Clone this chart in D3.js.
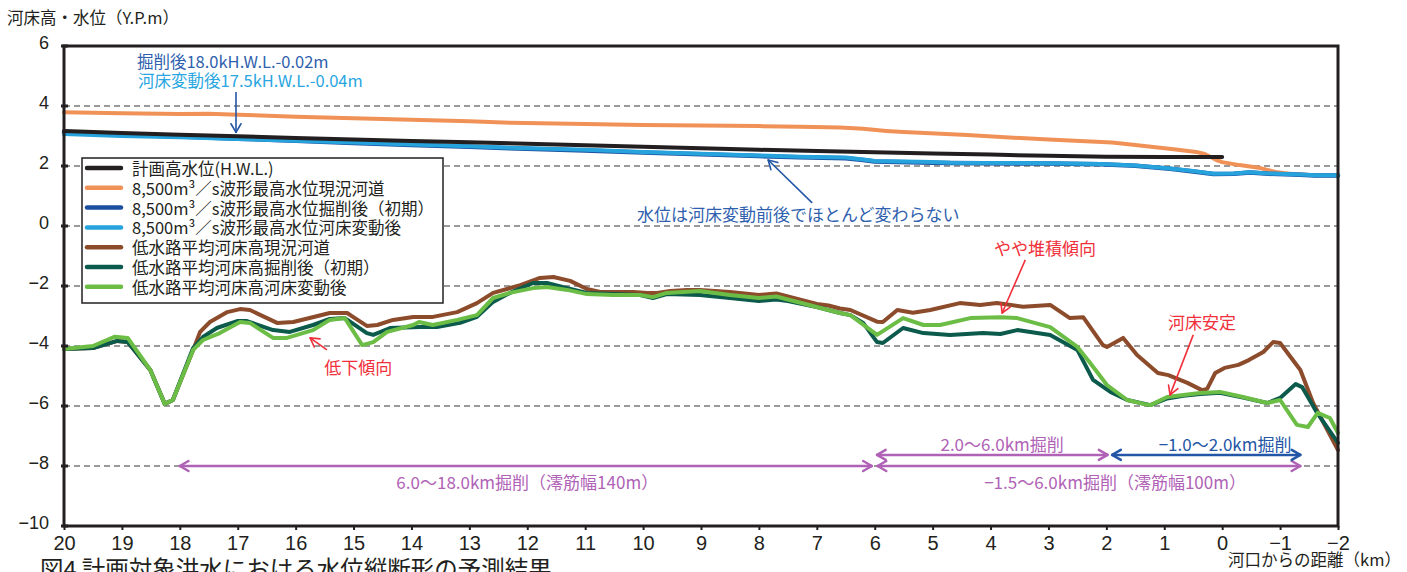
<!DOCTYPE html>
<html>
<head>
<meta charset="utf-8">
<script src="https://cdn.jsdelivr.net/npm/d3@7"></script>
<style>
  html, body { margin: 0; padding: 0; background: #fff; }
  svg { display: block; font-family: "Noto Sans CJK JP", "Noto Sans", sans-serif; }
</style>
</head>
<body>
<svg id="chart" width="1407" height="572"></svg>
<script>
// ---- axis ticks ----
const xTicks = [20, 19, 18, 17, 16, 15, 14, 13, 12, 11, 10, 9, 8, 7, 6, 5, 4, 3, 2, 1, 0, -1, -2];
const yTicks = [-10, -8, -6, -4, -2, 0, 2, 4, 6];

// ---- water levels [km from river mouth, Y.P. m] ----
const hwl = [[20,3.17],[19,3.1],[18,3.04],[17,2.99],[16,2.93],[15,2.88],[14,2.83],[13,2.79],[12,2.74],[11,2.69],[10,2.64],[9,2.59],[8,2.54],[7,2.5],[6,2.46],[5,2.42],[4,2.38],[3,2.34],[2,2.31],[1,2.3],[0,2.3]];

const wlCurrent = [[20,3.79],[19,3.76],[18,3.73],[17.5,3.74],[17,3.71],[16,3.64],[15,3.59],[14,3.54],[13,3.49],[12.3,3.44],[11,3.4],[10,3.37],[9,3.35],[8,3.33],[7.3,3.31],[6.6,3.28],[6.2,3.24],[5.8,3.17],[5.5,3.13],[4.4,3.03],[3,2.88],[1.9,2.78],[1.5,2.7],[0.8,2.55],[0.45,2.47],[0.3,2.4],[0.1,2.2],[0,2.13],[-0.3,2.03],[-0.66,1.93],[-0.92,1.8],[-1.2,1.73],[-1.5,1.7],[-2,1.69]];

const wlExcavated = [[20,3.12],[19,3.04],[18,2.98],[17,2.91],[16,2.84],[15,2.77],[14,2.7],[13,2.64],[12.3,2.59],[11,2.52],[10,2.45],[9,2.39],[8,2.33],[7.3,2.29],[6.5,2.26],[6.2,2.2],[6.0,2.15],[5,2.11],[4.7,2.1],[3,2.08],[2.1,2.06],[1.5,2.01],[0.9,1.91],[0.5,1.82],[0.15,1.73],[-0.2,1.74],[-0.48,1.78],[-0.8,1.74],[-1.35,1.71],[-1.6,1.68],[-2,1.68]];

const wlChanged = [[20,3.07],[19,3.0],[18,2.96],[17,2.9],[16,2.84],[15,2.78],[14,2.72],[13,2.66],[12.3,2.61],[11,2.54],[10,2.47],[9,2.41],[8,2.35],[7.3,2.31],[6.5,2.28],[6.2,2.22],[6.0,2.17],[5,2.13],[4.7,2.11],[3,2.09],[2.1,2.07],[1.5,2.02],[0.9,1.92],[0.5,1.83],[0.15,1.74],[-0.2,1.75],[-0.48,1.79],[-0.8,1.75],[-1.35,1.72],[-1.6,1.69],[-2,1.69]];

// ---- low-water channel mean bed elevation [km, Y.P. m] ----
const bedCurrent = [[20,-4.1],[19.5,-4.07],[19.08,-3.83],[18.9,-3.87],[18.51,-4.8],[18.26,-5.93],[18.12,-5.8],[17.77,-4.13],[17.65,-3.53],[17.48,-3.2],[17.18,-2.87],[16.96,-2.77],[16.79,-2.8],[16.32,-3.23],[16.04,-3.2],[15.41,-2.9],[15.11,-2.9],[15.01,-3.03],[14.77,-3.33],[14.59,-3.3],[14.32,-3.13],[13.97,-3.03],[13.63,-3.03],[13.21,-2.87],[12.87,-2.57],[12.59,-2.23],[12.35,-2.1],[12.12,-1.97],[11.78,-1.73],[11.55,-1.7],[11.26,-1.83],[10.97,-2.1],[10.74,-2.2],[10.17,-2.2],[9.93,-2.23],[9.76,-2.23],[9.53,-2.17],[9.24,-2.13],[9.02,-2.13],[8.5,-2.2],[8.0,-2.3],[7.7,-2.25],[7.5,-2.35],[7.2,-2.5],[7.0,-2.6],[6.8,-2.65],[6.6,-2.75],[6.42,-2.8],[5.96,-3.19],[5.86,-3.2],[5.61,-2.8],[5.34,-2.89],[5.04,-2.8],[4.53,-2.57],[4.18,-2.63],[3.89,-2.57],[3.44,-2.69],[2.97,-2.63],[2.63,-3.07],[2.4,-3.04],[2.06,-3.97],[1.99,-4.03],[1.71,-3.73],[1.47,-4.3],[1.11,-4.9],[0.93,-4.97],[0.6,-5.23],[0.35,-5.47],[0.26,-5.43],[0.12,-4.9],[-0.04,-4.73],[-0.28,-4.63],[-0.46,-4.47],[-0.71,-4.2],[-0.88,-3.87],[-1.0,-3.9],[-1.35,-4.8],[-1.57,-5.9],[-2,-7.47]];

const bedExcavated = [[20,-4.1],[19.5,-4.07],[19.08,-3.83],[18.9,-3.87],[18.51,-4.8],[18.26,-5.93],[18.12,-5.8],[17.77,-4.07],[17.6,-3.7],[17.36,-3.4],[17.01,-3.17],[16.84,-3.17],[16.39,-3.47],[16.1,-3.53],[15.7,-3.3],[15.41,-3.1],[15.15,-3.07],[14.77,-3.57],[14.66,-3.63],[14.37,-3.4],[13.85,-3.37],[13.56,-3.37],[13.16,-3.23],[12.87,-3.03],[12.59,-2.53],[12.3,-2.23],[11.9,-1.9],[11.66,-1.9],[11.31,-2.07],[10.97,-2.23],[10.05,-2.3],[9.83,-2.4],[9.59,-2.27],[9.02,-2.3],[8.5,-2.4],[8.0,-2.5],[7.7,-2.45],[7.5,-2.5],[7.0,-2.7],[6.6,-2.9],[6.42,-2.97],[6.2,-3.23],[5.96,-3.87],[5.86,-3.9],[5.51,-3.4],[5.16,-3.57],[4.7,-3.63],[4.13,-3.57],[3.83,-3.6],[3.54,-3.47],[2.97,-3.63],[2.5,-4.13],[2.23,-5.13],[1.93,-5.53],[1.64,-5.8],[1.24,-5.97],[0.95,-5.75],[0.67,-5.66],[0.38,-5.6],[0.04,-5.56],[-0.36,-5.72],[-0.78,-5.9],[-1.0,-5.73],[-1.27,-5.27],[-1.38,-5.37],[-1.64,-6.23],[-2,-7.23]];

const bedChanged = [[20,-4.1],[19.5,-4.0],[19.12,-3.69],[18.9,-3.73],[18.51,-4.8],[18.26,-5.93],[18.12,-5.8],[17.77,-4.13],[17.6,-3.8],[17.31,-3.57],[16.96,-3.2],[16.79,-3.23],[16.39,-3.73],[16.15,-3.73],[15.7,-3.47],[15.41,-3.13],[15.15,-3.07],[14.85,-3.97],[14.66,-3.87],[14.42,-3.53],[13.97,-3.3],[13.87,-3.2],[13.63,-3.3],[13.21,-3.13],[12.87,-2.97],[12.59,-2.4],[12.3,-2.23],[11.9,-2.07],[11.66,-2.03],[11.31,-2.13],[10.97,-2.27],[10.52,-2.3],[10.05,-2.3],[9.83,-2.37],[9.59,-2.23],[9.02,-2.17],[8.5,-2.3],[8.0,-2.4],[7.7,-2.35],[7.5,-2.45],[7.2,-2.6],[7.0,-2.7],[6.6,-2.9],[6.42,-2.97],[5.96,-3.63],[5.51,-3.07],[5.16,-3.3],[4.87,-3.3],[4.35,-3.07],[3.83,-3.04],[3.54,-3.07],[2.97,-3.37],[2.5,-4.03],[2.28,-4.57],[1.99,-5.3],[1.64,-5.8],[1.36,-5.93],[1.24,-5.97],[0.95,-5.7],[0.67,-5.63],[0.38,-5.57],[0.04,-5.53],[-0.36,-5.7],[-0.78,-5.9],[-1.0,-5.8],[-1.29,-6.63],[-1.48,-6.7],[-1.65,-6.23],[-1.86,-6.4],[-2,-6.9]];

// ---- legend ----
const legendLabels = [
  "計画高水位(H.W.L.)",
  "8,500m³／s波形最高水位現況河道",
  "8,500m³／s波形最高水位掘削後（初期）",
  "8,500m³／s波形最高水位河床変動後",
  "低水路平均河床高現況河道",
  "低水路平均河床高掘削後（初期）",
  "低水路平均河床高河床変動後"
];
const seriesColors = ["#231f20", "#f09257", "#1a4f9f", "#26a3dc", "#8c4b2a", "#0b5a4b", "#6cbd45"];

// ---- excavation ranges ----
const ranges = [
  { from: 18.0, to: 6.05, level: -8.0, color: "#b062b6" },
  { from: 5.95, to: -1.35, level: -8.0, color: "#b062b6" },
  { from: 5.96, to: 1.98, level: -7.63, color: "#b062b6" },
  { from: 1.9, to: -1.35, level: -7.63, color: "#2356a6" }
];
const rangeLabels = [
  { text: "6.0～18.0km掘削（澪筋幅140m）", km: 12.0, level: -8.5, color: "#b062b6" },
  { text: "2.0～6.0km掘削", km: 3.8, level: -7.25, color: "#b062b6" },
  { text: "−1.0～2.0km掘削", km: -0.05, level: -7.25, color: "#2356a6" },
  { text: "−1.5～6.0km掘削（澪筋幅100m）", km: 1.85, level: -8.5, color: "#b062b6" }
];

const svg = d3.select("#chart");
const x = d3.scaleLinear().domain([20, -2]).range([64, 1338]);
const y = d3.scaleLinear().domain([-10, 6]).range([526, 46]);
const fmt = d => d < 0 ? "−" + Math.abs(d) : String(d);

// dashed horizontal grid
svg.append("g").selectAll("line")
  .data(yTicks.filter(v => v > -10 && v < 6))
  .join("line")
  .attr("x1", x(20)).attr("x2", x(-2))
  .attr("y1", d => y(d)).attr("y2", d => y(d))
  .attr("stroke", "#7a7a7a").attr("stroke-width", 1.6)
  .attr("stroke-dasharray", "6,4");

// series lines
const line = d3.line().x(d => x(d[0])).y(d => y(d[1]));
const drawSeries = (data, color, w) =>
  svg.append("path").datum(data).attr("d", line)
    .attr("fill", "none").attr("stroke", color).attr("stroke-width", w)
    .attr("stroke-linejoin", "round").attr("stroke-linecap", "round");

drawSeries(bedCurrent, seriesColors[4], 4);
drawSeries(bedExcavated, seriesColors[5], 4);
drawSeries(bedChanged, seriesColors[6], 4);
drawSeries(wlCurrent, seriesColors[1], 4);
drawSeries(wlExcavated, seriesColors[2], 4.5);
drawSeries(wlChanged, seriesColors[3], 4);
drawSeries(hwl, seriesColors[0], 4);

// plot frame
svg.append("rect")
  .attr("x", x(20)).attr("y", y(6))
  .attr("width", x(-2) - x(20)).attr("height", y(-10) - y(6))
  .attr("fill", "none").attr("stroke", "#231f20").attr("stroke-width", 3);

// left ticks + labels
svg.append("g").selectAll("line").data(yTicks).join("line")
  .attr("x1", x(20) - 3).attr("x2", x(20) + 4)
  .attr("y1", d => y(d)).attr("y2", d => y(d))
  .attr("stroke", "#231f20").attr("stroke-width", 3);
svg.append("g").selectAll("text").data(yTicks).join("text")
  .attr("x", 49).attr("y", d => y(d) - 3)
  .attr("text-anchor", "end").attr("dominant-baseline", "central")
  .style("font-family", "'Liberation Sans', Arial, sans-serif")
  .attr("font-size", 18).attr("fill", "#231f20")
  .text(fmt);

// bottom axis
const xAxis = d3.axisBottom(x).tickValues(xTicks).tickSize(4).tickPadding(6).tickFormat(fmt);
const gx = svg.append("g").attr("transform", `translate(0,${y(-10)})`).call(xAxis);
gx.select(".domain").remove();
gx.selectAll(".tick line").attr("stroke", "#231f20").attr("stroke-width", 2);
gx.selectAll(".tick text")
  .style("font-family", "'Liberation Sans', Arial, sans-serif")
  .attr("font-size", 20).attr("fill", "#231f20");

// axis titles & caption
svg.append("text").attr("x", 7).attr("y", 24)
  .attr("font-size", 16.5).attr("fill", "#231f20")
  .text("河床高・水位（Y.P.m）");
svg.append("text").attr("x", 1401).attr("y", 566).attr("text-anchor", "end")
  .attr("font-size", 16.5).attr("fill", "#231f20")
  .text("河口からの距離（km）");
svg.append("text").attr("x", 40).attr("y", 578)
  .attr("font-size", 23.5).attr("fill", "#231f20")
  .text("図4 計画対象洪水における水位縦断形の予測結果");

// legend
const lg = svg.append("g");
lg.append("rect").attr("x", 82).attr("y", 158).attr("width", 361).attr("height", 145)
  .attr("fill", "#fff").attr("stroke", "#231f20").attr("stroke-width", 1.5);
legendLabels.forEach((t, i) => {
  const yy = 168 + i * 19.8;
  lg.append("line").attr("x1", 87).attr("x2", 121).attr("y1", yy).attr("y2", yy)
    .attr("stroke", seriesColors[i]).attr("stroke-width", 4.5).attr("stroke-linecap", "round");
  lg.append("text").attr("x", 132).attr("y", yy).attr("dominant-baseline", "central")
    .attr("font-size", 16.5).attr("fill", "#231f20").text(t);
});

// arrow helper with open chevron heads
function arrow(g, x1, y1, x2, y2, color, w, headStart) {
  g.append("line").attr("x1", x1).attr("y1", y1).attr("x2", x2).attr("y2", y2)
    .attr("stroke", color).attr("stroke-width", w);
  const head = (px, py, ang) => {
    const L = 10, a = Math.PI / 6;
    [ang + a, ang - a].forEach(t => {
      g.append("line").attr("x1", px).attr("y1", py)
        .attr("x2", px - L * Math.cos(t)).attr("y2", py - L * Math.sin(t))
        .attr("stroke", color).attr("stroke-width", w).attr("stroke-linecap", "round");
    });
  };
  const ang = Math.atan2(y2 - y1, x2 - x1);
  head(x2, y2, ang);
  if (headStart) head(x1, y1, ang + Math.PI);
}

// excavation ranges
const rg = svg.append("g");
ranges.forEach(r => arrow(rg, x(r.from), y(r.level), x(r.to), y(r.level), r.color, 2.5, true));
rangeLabels.forEach(l => {
  rg.append("text").attr("x", x(l.km)).attr("y", y(l.level))
    .attr("text-anchor", "middle").attr("dominant-baseline", "central")
    .attr("font-size", 17).attr("fill", l.color).text(l.text);
});

// annotations
const an = svg.append("g");
an.append("text").attr("x", x(18.74)).attr("y", y(5.49)).attr("dominant-baseline", "central")
  .attr("font-size", 16.5).attr("fill", "#2f5fae").text("掘削後18.0kH.W.L.-0.02m");
an.append("text").attr("x", x(18.72)).attr("y", y(4.86)).attr("dominant-baseline", "central")
  .attr("font-size", 16.5).attr("fill", "#29a6df").text("河床変動後17.5kH.W.L.-0.04m");
arrow(an, x(17.03), y(4.47), x(17.03), y(3.12), "#2356a6", 1.6, false);

an.append("text").attr("x", x(7.32)).attr("y", y(0.43))
  .attr("text-anchor", "middle").attr("dominant-baseline", "central")
  .attr("font-size", 17).attr("fill", "#2f5fae").text("水位は河床変動前後でほとんど変わらない");
arrow(an, x(7.08), y(0.77), x(7.84), y(2.2), "#2356a6", 1.6, false);

const red = "#f0303a";
an.append("text").attr("x", x(3.06)).attr("y", y(-0.73))
  .attr("text-anchor", "middle").attr("dominant-baseline", "central")
  .attr("font-size", 17).attr("fill", red).text("やや堆積傾向");
arrow(an, x(3.4), y(-1.13), x(3.8), y(-2.9), red, 1.6, false);

an.append("text").attr("x", x(0.35)).attr("y", y(-3.17))
  .attr("text-anchor", "middle").attr("dominant-baseline", "central")
  .attr("font-size", 17).attr("fill", red).text("河床安定");
arrow(an, x(0.5), y(-3.63), x(0.9), y(-5.63), red, 1.6, false);

an.append("text").attr("x", x(14.92)).attr("y", y(-4.67))
  .attr("text-anchor", "middle").attr("dominant-baseline", "central")
  .attr("font-size", 17).attr("fill", red).text("低下傾向");
arrow(an, x(15.46), y(-4.13), x(15.75), y(-3.73), red, 1.6, false);
</script>
</body>
</html>
